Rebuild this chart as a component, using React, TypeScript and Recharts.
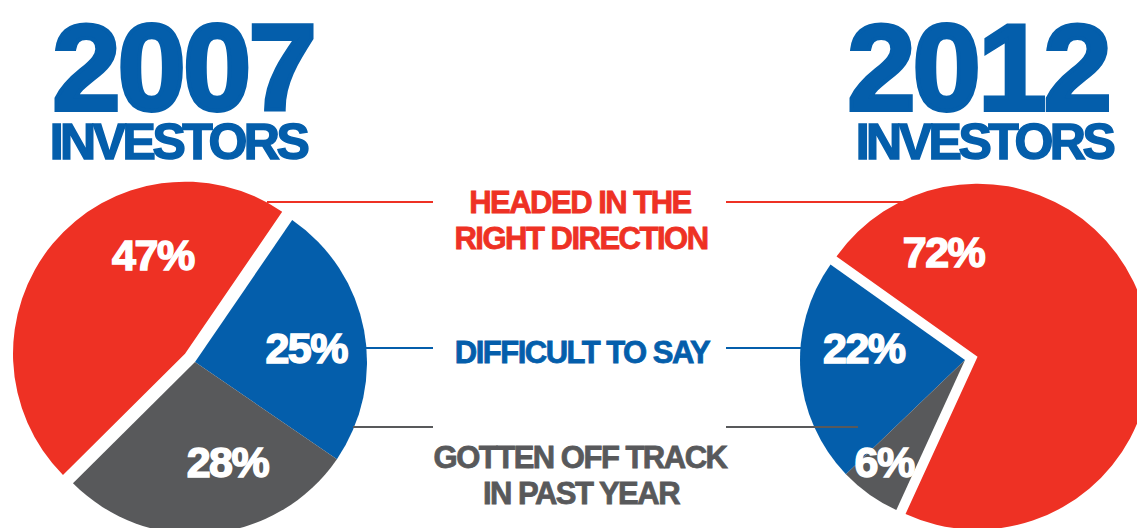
import React from 'react';
import { PieChart, Pie, Cell } from 'recharts';

// categories in drawing order, same for both years
const categories = ['Headed in the right direction', 'Difficult to say', 'Gotten off track in past year'];
const values2007 = [47, 25, 28];
const values2012 = [72, 22, 6];
const legendLines = [['HEADED IN THE', 'RIGHT DIRECTION'], ['DIFFICULT TO SAY'], ['GOTTEN OFF TRACK', 'IN PAST YEAR']];
const years = ['2007', '2012'];

const COLORS = ['#ee3124', '#045eab', '#58595b'];
const FONT = '"Liberation Sans", Arial, sans-serif';
const RAD = Math.PI / 180;
const EXPLODE = 13;

type Place = { angle: number; r: number };

// where the percent text sits in each slice (angle in degrees, radius in px)
const places2007: Place[] = [
    { angle: 108, r: 104 },
    { angle: 7, r: 112 },
    { angle: -72, r: 105 }
];
const places2012: Place[] = [
    { angle: 108, r: 110 },
    { angle: 173, r: 102 },
    { angle: 231.5, r: 130 }
];

const makeData = (values: number[]) => categories.map((name, i) => ({ name, value: values[i] }));

const makeLabel = (show: number[], places: Place[]) => (props: any) => {
    const { cx, cy, index, value } = props;
    if (!show.includes(index)) return null;
    const p = places[index];
    const x = cx + p.r * Math.cos(p.angle * RAD);
    const y = cy - p.r * Math.sin(p.angle * RAD);
    return (
        <text
            key={`lbl-${index}`}
            x={x}
            y={y + 15}
            textAnchor="middle"
            fill="#fff"
            stroke="#fff"
            strokeWidth={1.5}
            fontSize={43}
            fontWeight={700}
            fontFamily={FONT}
            letterSpacing={-1.5}
        >
            {value}%
        </text>
    );
};

interface ExplodedPieProps {
    values: number[];
    cx: number;
    cy: number;
    radius: number;
    redRadius: number;
    startAngle: number;
    endAngle: number;
    places: Place[];
}

// base pie (blue + gray) plus the red slice pulled out along its mid angle
const explodedPies = ({ values, cx, cy, radius, redRadius, startAngle, endAngle, places }: ExplodedPieProps, key: string) => {
    const data = makeData(values);
    const total = values.reduce((a, b) => a + b, 0);
    const mid = startAngle + (endAngle - startAngle) * (values[0] / 2) / total;
    const ex = cx + EXPLODE * Math.cos(mid * RAD);
    const ey = cy - EXPLODE * Math.sin(mid * RAD);
    return [
        <Pie
            key={`${key}-base`}
            data={data}
            dataKey="value"
            cx={cx}
            cy={cy}
            outerRadius={radius}
            startAngle={startAngle}
            endAngle={endAngle}
            stroke="none"
            labelLine={false}
            label={makeLabel([1, 2], places)}
            isAnimationActive={false}
        >
            {data.map((d, i) => (
                <Cell key={d.name} fill={i === 0 ? 'none' : COLORS[i]} />
            ))}
        </Pie>,
        <Pie
            key={`${key}-red`}
            data={data}
            dataKey="value"
            cx={ex}
            cy={ey}
            outerRadius={redRadius}
            startAngle={startAngle}
            endAngle={endAngle}
            stroke="none"
            labelLine={false}
            label={makeLabel([0], places)}
            isAnimationActive={false}
        >
            {data.map((d, i) => (
                <Cell key={d.name} fill={i === 0 ? COLORS[0] : 'none'} />
            ))}
        </Pie>
    ];
};

const App: React.FC = () => {
    const lineY = [202, 348, 427];
    return (
        <div style={{ position: 'absolute', left: 0, top: 0, width: 1137, height: 528, overflow: 'hidden', background: '#fff' }}>
            <PieChart width={1137} height={528} margin={{ top: 0, right: 0, bottom: 0, left: 0 }}>
                {explodedPies({ values: values2007, cx: 195, cy: 362, radius: 172, redRadius: 172, startAngle: 224.8, endAngle: -135.2, places: places2007 }, 'y2007')}
                {explodedPies({ values: values2012, cx: 965, cy: 360, radius: 165, redRadius: 173, startAngle: 245.4, endAngle: 605.4, places: places2012 }, 'y2012')}
            </PieChart>
            <svg width={1137} height={528} style={{ position: 'absolute', left: 0, top: 0, pointerEvents: 'none' }}>
                {/* year headers, one text block each */}
                {years.map((yr, i) => (
                    <text key={yr} fill="#045eab" stroke="#045eab" fontFamily={FONT} fontWeight={700} textAnchor="middle">
                        <tspan x={i === 0 ? 183 : 978} y={110} fontSize={123} strokeWidth={4} letterSpacing={-3}>{yr}</tspan>
                        <tspan x={i === 0 ? 178 : 984} y={159} fontSize={50} strokeWidth={1.5} letterSpacing={-3.5}>INVESTORS</tspan>
                    </text>
                ))}
                {/* connector lines */}
                <line x1={267} x2={433} y1={lineY[0]} y2={lineY[0]} stroke={COLORS[0]} strokeWidth={2} />
                <line x1={726} x2={904} y1={lineY[0]} y2={lineY[0]} stroke={COLORS[0]} strokeWidth={2} />
                <line x1={366} x2={433} y1={lineY[1]} y2={lineY[1]} stroke={COLORS[1]} strokeWidth={2} />
                <line x1={726} x2={801} y1={lineY[1]} y2={lineY[1]} stroke={COLORS[1]} strokeWidth={2} />
                <line x1={353} x2={433} y1={lineY[2]} y2={lineY[2]} stroke={COLORS[2]} strokeWidth={2} />
                <line x1={726} x2={858} y1={lineY[2]} y2={lineY[2]} stroke={COLORS[2]} strokeWidth={2} />
                {/* category labels */}
                <g fontFamily={FONT} fontWeight={700} fontSize={31} textAnchor="middle" letterSpacing={-1.5} strokeWidth={0.8}>
                    <text x={580} y={213} fill={COLORS[0]} stroke={COLORS[0]}>{legendLines[0][0]}</text>
                    <text x={581} y={249} fill={COLORS[0]} stroke={COLORS[0]}>{legendLines[0][1]}</text>
                    <text x={582} y={363} fill={COLORS[1]} stroke={COLORS[1]}>{legendLines[1][0]}</text>
                    <text x={580} y={468} fill={COLORS[2]} stroke={COLORS[2]}>{legendLines[2][0]}</text>
                    <text x={581} y={504} fill={COLORS[2]} stroke={COLORS[2]}>{legendLines[2][1]}</text>
                </g>
            </svg>
        </div>
    );
};

export default App;
